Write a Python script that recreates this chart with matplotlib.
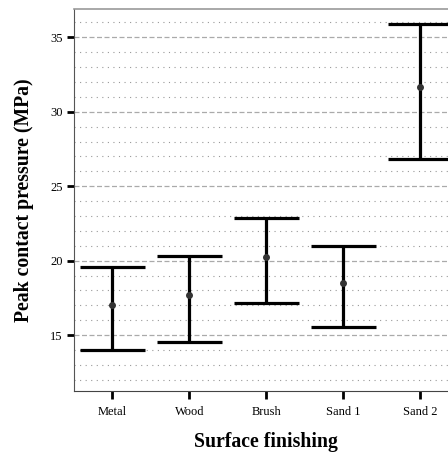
import matplotlib.pyplot as plt
from matplotlib.ticker import MultipleLocator

# Peak contact pressure per surface finishing (MPa)
finishes = ['Metal', 'Wood', 'Brush', 'Sand 1', 'Sand 2']
mean_vals = [17.03, 17.72, 20.28, 18.53, 31.64]
upper_vals = [19.56, 20.30, 22.87, 20.97, 35.92]
lower_vals = [14.00, 14.53, 17.15, 15.58, 26.81]

plt.rcParams['font.family'] = ['Liberation Serif', 'DejaVu Serif']

fig = plt.figure(figsize=(4.48, 4.57), dpi=100)
ax = fig.add_axes([0.1652, 0.1444, 0.859, 0.8359])

xs = list(range(len(finishes)))
cap = 0.42

# whiskers with caps
ax.vlines(xs, lower_vals, upper_vals, color='black', lw=2.3, zorder=3)
for x, lo, hi in zip(xs, lower_vals, upper_vals):
    ax.hlines([lo, hi], x - cap, x + cap, color='black', lw=2.3, zorder=3)
ax.scatter(xs, mean_vals, s=16, color='#333333', zorder=4)

ax.set_xlim(-0.5, 4.5)
ax.set_ylim(11.25, 36.9)
ax.set_xticks(xs)
ax.set_xticklabels(finishes, fontsize=9)
ax.yaxis.set_major_locator(MultipleLocator(5))
ax.yaxis.set_minor_locator(MultipleLocator(1))
ax.tick_params(axis='y', which='major', labelsize=9, length=5, width=2, color='black', pad=3)
ax.tick_params(axis='y', which='minor', length=0)
ax.tick_params(axis='x', which='major', length=6, width=2, color='black', pad=5)

ax.grid(which='major', axis='y', linestyle=(0, (4, 2)), color='#aaaaaa', lw=0.9)
ax.grid(which='minor', axis='y', linestyle=(0, (1, 4)), color='#999999', lw=0.8)
ax.set_axisbelow(True)

ax.spines['top'].set_color('#999999')
ax.spines['top'].set_linewidth(1.2)
ax.spines['left'].set_color('#555555')
ax.spines['bottom'].set_color('#444444')
ax.spines['right'].set_visible(False)

ax.set_xlabel('Surface finishing', fontsize=14.2, fontweight='bold', labelpad=10)
ax.set_ylabel('Peak contact pressure (MPa)', fontsize=14.2, fontweight='bold', labelpad=12)

fig.savefig('out.png', dpi=100)
